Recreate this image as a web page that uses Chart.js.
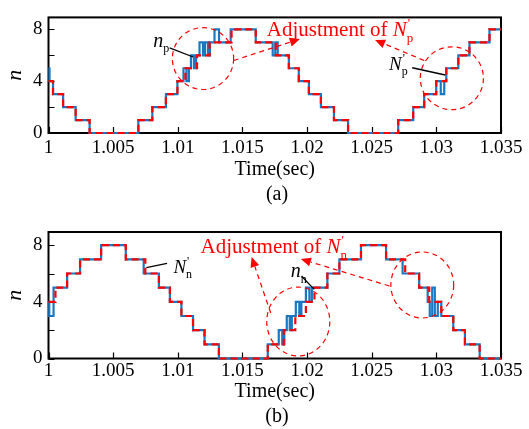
<!DOCTYPE html>
<html lang="en">
<head>
<meta charset="utf-8">
<script src="https://cdn.jsdelivr.net/npm/chart.js@4.4.0/dist/chart.umd.min.js"></script>
<title>Switching levels</title>
<style>
  body { margin: 0; background: #fff; }
  #wrap { position: relative; width: 529px; height: 429px; }
  canvas { position: absolute; left: 0; top: 0; }
  .cap { position: absolute; width: 60px; margin-left: -30px; text-align: center;
         font: 20px "Liberation Serif", "Times New Roman", serif; line-height: 24px; }
</style>
</head>
<body>
<div id="wrap">
  <canvas id="chartA" width="529" height="429"></canvas>
  <canvas id="chartB" width="529" height="429"></canvas>
  <div class="cap" style="left:277px;top:181px">(a)</div>
  <div class="cap" style="left:277px;top:403px">(b)</div>
</div>
<script>
// (a) reference level N'p (red dashed): switching instants [s] and levels
var tA_ref = [1.0, 1.00035, 1.00113, 1.0021, 1.00318, 1.00695, 1.00803, 1.00908, 1.00997, 1.01059,
  1.01149, 1.01246, 1.01416, 1.01603, 1.01758, 1.01859, 1.01936, 1.02014, 1.02107, 1.02208,
  1.02317, 1.02705, 1.02821, 1.02906, 1.02999, 1.03077, 1.0317, 1.03256, 1.03411, 1.035];
var nA_ref = [4, 3, 2, 1, 0, 1, 2, 3, 4, 5, 6, 7, 8, 7, 6, 5, 4, 3, 2, 1, 0, 1, 2, 3, 4, 5, 6, 7, 8, 8];

// (a) actual level n_p (blue)
var tA_act = [1.0, 1.00008, 1.00035, 1.00113, 1.0021, 1.00318, 1.00695, 1.00803, 1.00908, 1.00997,
  1.01044, 1.01067, 1.01086, 1.01102, 1.01125, 1.01141, 1.01168, 1.01195, 1.01211, 1.01234,
  1.01249, 1.01284, 1.01319, 1.01409, 1.01603, 1.01734, 1.01754, 1.01773,
  1.01859, 1.01936, 1.02014, 1.02107, 1.02208, 1.02317, 1.02705, 1.02821, 1.02906, 1.02999,
  1.03034, 1.03061, 1.03077, 1.0317, 1.03256, 1.03411, 1.035];
var nA_act = [5, 4, 3, 2, 1, 0, 1, 2, 3, 4,
  5, 4, 5, 6, 5, 6, 7, 6, 7, 6,
  7, 8, 7, 8, 7, 6, 7, 6,
  5, 4, 3, 2, 1, 0, 1, 2, 3, 4,
  3, 4, 5, 6, 7, 8, 8];

// (b) reference level N'n (red dashed)
var tB_ref = [1.0, 1.00054, 1.00144, 1.00244, 1.00407, 1.00598, 1.00749, 1.00854, 1.00939, 1.01028,
  1.01118, 1.01207, 1.01318, 1.01696, 1.0182, 1.01909, 1.01991, 1.02057, 1.02157, 1.0225,
  1.02417, 1.02611, 1.02759, 1.02867, 1.02945, 1.03038, 1.03131, 1.03221, 1.03335, 1.035];
var nB_ref = [4, 5, 6, 7, 8, 7, 6, 5, 4, 3, 2, 1, 0, 1, 2, 3, 4, 5, 6, 7, 8, 7, 6, 5, 4, 3, 2, 1, 0, 0];

// (b) actual level n_n (blue)
var tB_act = [1.0, 1.00006, 1.00039, 1.00144, 1.00244, 1.00407, 1.00598, 1.00736, 1.00854, 1.00939,
  1.01028, 1.01118, 1.01207, 1.01318, 1.01696,
  1.01781, 1.01808, 1.01824, 1.01843, 1.01866, 1.01882, 1.01913, 1.0194, 1.01956, 1.01991,
  1.02018, 1.02037, 1.02157, 1.0225, 1.02417, 1.02611, 1.02739, 1.02867,
  1.02933, 1.02949, 1.02968, 1.02988, 1.03011, 1.03038, 1.03131, 1.03221, 1.03335, 1.035];
var nB_act = [4, 3, 5, 6, 7, 8, 7, 6, 5, 4,
  3, 2, 1, 0, 1,
  2, 1, 2, 3, 2, 3, 4, 3, 4, 5,
  4, 5, 6, 7, 8, 7, 6, 5,
  4, 3, 5, 3, 4, 3, 2, 1, 0, 0];

var yLabelTicks = [0, 4, 8];
var xRange = [1.0, 1.035];
var yRange = [0, 8.93];

var serif = '"Liberation Serif", "Times New Roman", serif';
var RED = '#ff0000';
Chart.defaults.font.family = serif;

function pts(t, n) {
  return t.map(function (v, i) { return { x: v, y: n[i] }; });
}

// frame, inward ticks and the callouts (ellipses, arrows, labels) in data coordinates
var notesPlugin = {
  id: 'notes',
  beforeDatasetsDraw: function (chart) {
    var ctx = chart.ctx, a = chart.chartArea, xs = chart.scales.x, ys = chart.scales.y;
    ctx.save();
    ctx.strokeStyle = '#000';
    ctx.lineWidth = 1.2;
    ctx.beginPath();
    xs.ticks.forEach(function (tk) {
      var x = Math.round(xs.getPixelForValue(tk.value)) + 0.5;
      ctx.moveTo(x, a.bottom); ctx.lineTo(x, a.bottom - 6);
    });
    ys.ticks.forEach(function (tk) {
      if (Math.abs(tk.value - Math.round(tk.value)) > 1e-6) return;
      var y = Math.round(ys.getPixelForValue(tk.value)) + 0.5;
      ctx.moveTo(a.left, y); ctx.lineTo(a.left + 6, y);
    });
    ctx.stroke();
    ctx.lineWidth = 2;
    ctx.strokeRect(a.left, a.top, a.right - a.left, a.bottom - a.top);
    ctx.restore();
  },
  afterDatasetsDraw: function (chart, args, opts) {
    var ctx = chart.ctx, xs = chart.scales.x, ys = chart.scales.y;
    function P(p) { return [xs.getPixelForValue(p[0]), ys.getPixelForValue(p[1])]; }
    ctx.save();

    ctx.strokeStyle = RED;
    ctx.lineWidth = 1.2;
    ctx.setLineDash([5, 4]);
    (opts.ellipses || []).forEach(function (e) {
      var c = P([e[0], e[1]]);
      var rx = Math.abs(xs.getPixelForValue(e[0] + e[2]) - c[0]);
      var ry = Math.abs(ys.getPixelForValue(e[1] + e[3]) - c[1]);
      ctx.beginPath();
      ctx.ellipse(c[0], c[1], rx, ry, 0, 0, Math.PI * 2);
      ctx.stroke();
    });

    (opts.arrows || []).forEach(function (ar) {
      var p0 = P(ar[0]), p1 = P(ar[1]);
      var ang = Math.atan2(p1[1] - p0[1], p1[0] - p0[0]);
      var len = 10, hw = 4.5;
      var bx = p1[0] - len * Math.cos(ang), by = p1[1] - len * Math.sin(ang);
      ctx.setLineDash([5, 4]);
      ctx.beginPath();
      ctx.moveTo(p0[0], p0[1]); ctx.lineTo(bx, by);
      ctx.stroke();
      ctx.setLineDash([]);
      ctx.fillStyle = RED;
      ctx.beginPath();
      ctx.moveTo(p1[0], p1[1]);
      ctx.lineTo(bx + hw * Math.sin(ang), by - hw * Math.cos(ang));
      ctx.lineTo(bx - hw * Math.sin(ang), by + hw * Math.cos(ang));
      ctx.closePath();
      ctx.fill();
    });

    ctx.setLineDash([]);
    ctx.strokeStyle = '#000';
    ctx.lineWidth = 1.3;
    (opts.pointers || []).forEach(function (pl) {
      var p0 = P(pl[0]), p1 = P(pl[1]);
      ctx.beginPath();
      ctx.moveTo(p0[0], p0[1]); ctx.lineTo(p1[0], p1[1]);
      ctx.stroke();
    });

    ctx.textAlign = 'left';
    ctx.textBaseline = 'alphabetic';
    (opts.labels || []).forEach(function (lb) {
      var p = P(lb.at), x = p[0], y = p[1], s = lb.size;
      ctx.fillStyle = lb.color;
      if (lb.text) {
        ctx.font = s + 'px ' + serif;
        ctx.fillText(lb.text, x, y);
        x += ctx.measureText(lb.text).width;
      }
      ctx.font = 'italic ' + s + 'px ' + serif;
      ctx.fillText(lb.sym, x, y);
      x += ctx.measureText(lb.sym).width;
      var small = Math.round(s * 0.62);
      ctx.font = small + 'px ' + serif;
      ctx.fillText(lb.sub, x, y + s * 0.28);
      if (lb.prime) ctx.fillText("'", x + 1, y - s * 0.42);
    });
    ctx.restore();
  }
};

function makeChart(id, ref, act, box, notes) {
  return new Chart(document.getElementById(id), {
    type: 'line',
    data: {
      // first dataset is painted last, so the dashed reference sits on top
      datasets: [{
        data: pts(ref[0], ref[1]),
        stepped: true,
        borderColor: RED,
        borderWidth: 2.2,
        borderDash: [7, 4],
        pointRadius: 0,
        clip: 4
      }, {
        data: pts(act[0], act[1]),
        stepped: true,
        borderColor: '#1a78c2',
        borderWidth: 2.2,
        pointRadius: 0,
        clip: 4
      }]
    },
    options: {
      responsive: false,
      animation: false,
      events: [],
      layout: { padding: { top: box.top, right: 28, bottom: box.bottom, left: 0 } },
      plugins: { legend: { display: false }, tooltip: { enabled: false }, notes: notes },
      scales: {
        x: {
          type: 'linear',
          min: xRange[0],
          max: xRange[1],
          afterFit: function (s) { s.height = box.axisH; },
          grid: { display: false, drawTicks: false },
          border: { display: false },
          ticks: {
            stepSize: 0.005,
            maxRotation: 0,
            autoSkip: false,
            padding: box.tickPad,
            color: '#000',
            font: { family: serif, size: 19 },
            callback: function (v) { return String(parseFloat(v.toFixed(3))); }
          },
          title: {
            display: true,
            text: 'Time(sec)',
            color: '#000',
            font: { family: serif, size: 20 },
            padding: { top: 0, bottom: 0 }
          }
        },
        y: {
          min: yRange[0],
          max: yRange[1],
          afterFit: function (s) { s.width = 48.5; },
          grid: { display: false, drawTicks: false },
          border: { display: false },
          ticks: {
            stepSize: 1,
            includeBounds: false,
            padding: 6,
            color: '#000',
            font: { family: serif, size: 19 },
            callback: function (v) { return yLabelTicks.indexOf(v) >= 0 ? String(v) : ''; }
          },
          title: {
            display: true,
            text: 'n',
            color: '#000',
            font: { family: serif, size: 22, style: 'italic' },
            padding: { top: 2, bottom: 0 }
          }
        }
      }
    },
    plugins: [notesPlugin]
  });
}

makeChart('chartA', [tA_ref, nA_ref], [tA_act, nA_act],
  { top: 6, bottom: 247, axisH: 49, tickPad: 4 },
  {
    ellipses: [[1.01195, 5.75, 0.00237, 2.39], [1.0312, 4.23, 0.00244, 2.43]],
    arrows: [[[1.01432, 5.6], [1.01944, 7.26]], [[1.02906, 5.6], [1.02526, 7.19]]],
    pointers: [[[1.00937, 6.57], [1.01119, 5.87]], [[1.02813, 5.04], [1.03069, 4.48]]],
    labels: [
      { at: [1.01688, 7.5], color: RED, size: 21, text: 'Adjustment of ', sym: 'N', sub: 'p', prime: true },
      { at: [1.00811, 6.66], color: '#000', size: 20, sym: 'n', sub: 'p' },
      { at: [1.02634, 4.9], color: '#000', size: 19, sym: 'N', sub: 'p', prime: true }
    ]
  });

makeChart('chartB', [tB_ref, nB_ref], [tB_act, nB_act],
  { top: 232, bottom: 25, axisH: 45.5, tickPad: 1 },
  {
    ellipses: [[1.01932, 2.61, 0.00244, 2.43], [1.02891, 5.19, 0.00243, 2.33]],
    arrows: [[[1.01719, 3.21], [1.01571, 7.16]], [[1.02637, 5.12], [1.01952, 7.02]]],
    pointers: [[[1.00917, 6.72], [1.00757, 6.41]], [[1.01957, 5.82], [1.02055, 4.88]]],
    labels: [
      { at: [1.01176, 7.45], color: RED, size: 21, text: 'Adjustment of ', sym: 'N', sub: 'n', prime: true },
      { at: [1.00966, 6.03], color: '#000', size: 19, sym: 'N', sub: 'n', prime: true },
      { at: [1.01874, 5.75], color: '#000', size: 20, sym: 'n', sub: 'n' }
    ]
  });
</script>
</body>
</html>
